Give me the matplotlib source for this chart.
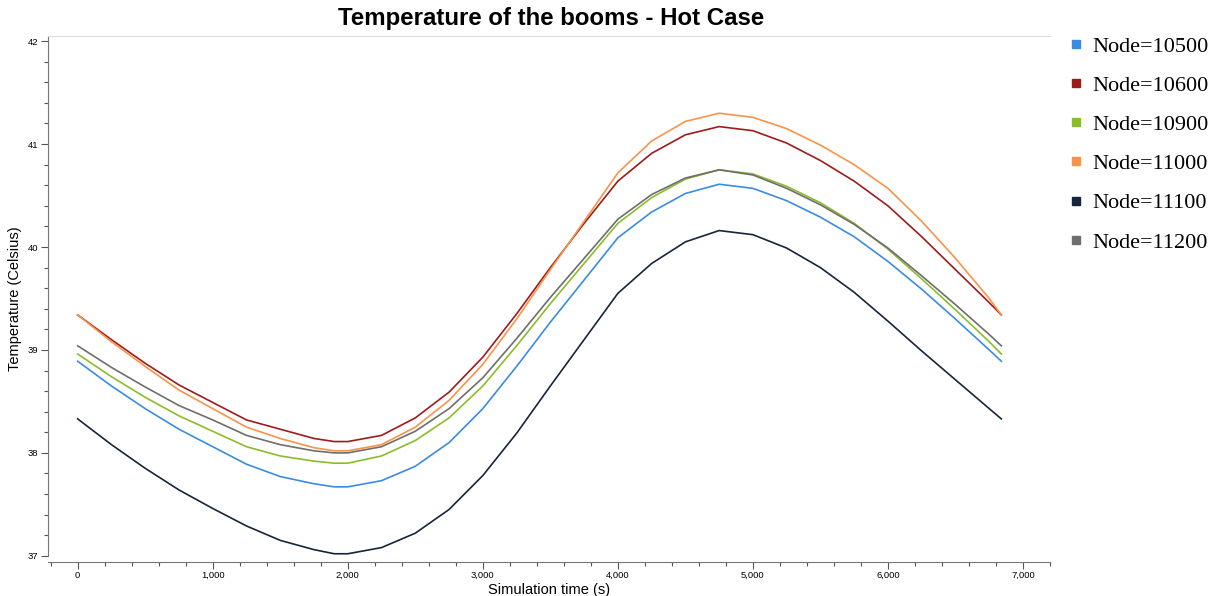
import numpy as np
import matplotlib
matplotlib.use("Agg")
import matplotlib.pyplot as plt
from matplotlib.ticker import MultipleLocator, FuncFormatter
from matplotlib.lines import Line2D

# simulation time (s)
time_s = [0, 250, 500, 750, 1000, 1250, 1500, 1750, 1900, 2000, 2250, 2500, 2750, 3000, 3250,
          3500, 3750, 4000, 4250, 4500, 4750, 5000, 5250, 5500, 5750, 6000, 6250, 6500, 6750, 6840]

# temperatures (Celsius)
node_10500 = [38.89, 38.65, 38.43, 38.23, 38.06, 37.89, 37.77, 37.70, 37.67, 37.67, 37.73, 37.87, 38.10, 38.43, 38.84,
              39.27, 39.68, 40.09, 40.34, 40.52, 40.61, 40.57, 40.45, 40.29, 40.10, 39.86, 39.59, 39.30, 39.00, 38.89]
node_10600 = [39.34, 39.10, 38.87, 38.66, 38.49, 38.32, 38.23, 38.14, 38.11, 38.11, 38.17, 38.34, 38.59, 38.93, 39.35,
              39.80, 40.23, 40.64, 40.91, 41.09, 41.17, 41.13, 41.01, 40.84, 40.64, 40.40, 40.10, 39.78, 39.46, 39.34]
node_10900 = [38.96, 38.74, 38.54, 38.36, 38.21, 38.06, 37.97, 37.92, 37.90, 37.90, 37.97, 38.12, 38.34, 38.65, 39.04,
              39.45, 39.84, 40.23, 40.48, 40.66, 40.75, 40.71, 40.59, 40.43, 40.23, 39.98, 39.69, 39.39, 39.08, 38.96]
node_11000 = [39.34, 39.08, 38.84, 38.61, 38.43, 38.25, 38.14, 38.05, 38.02, 38.02, 38.08, 38.25, 38.51, 38.86, 39.30,
              39.78, 40.25, 40.72, 41.03, 41.22, 41.30, 41.26, 41.15, 40.99, 40.80, 40.57, 40.25, 39.89, 39.50, 39.34]
node_11100 = [38.33, 38.08, 37.85, 37.64, 37.46, 37.29, 37.15, 37.06, 37.02, 37.02, 37.08, 37.22, 37.45, 37.78, 38.19,
              38.65, 39.10, 39.55, 39.84, 40.05, 40.16, 40.12, 39.99, 39.80, 39.56, 39.28, 38.99, 38.71, 38.43, 38.33]
node_11200 = [39.04, 38.83, 38.64, 38.46, 38.32, 38.17, 38.08, 38.02, 38.00, 38.00, 38.06, 38.21, 38.43, 38.73, 39.11,
              39.51, 39.89, 40.27, 40.51, 40.67, 40.75, 40.70, 40.57, 40.41, 40.22, 39.99, 39.72, 39.44, 39.15, 39.04]

labels = ["Node=10500", "Node=10600", "Node=10900", "Node=11000", "Node=11100", "Node=11200"]
colors = ["#3b8ce0", "#9e1b1b", "#8bbd2b", "#f7944a", "#17253a", "#6e6e6e"]

plt.rcParams['font.family'] = ['Liberation Sans', 'DejaVu Sans']

fig = plt.figure(figsize=(12.2, 5.96), dpi=100)
ax = fig.add_axes([48 / 1220, 1 - 562 / 596, (1050 - 48) / 1220, (562 - 36) / 596])

series = [node_10500, node_10600, node_10900, node_11000, node_11100, node_11200]
for vals, c in zip(series, colors):
    ax.plot(time_s, vals, color=c, lw=1.2, solid_joinstyle='round')

ax.set_xlim(-220, 7200)
ax.set_ylim(36.94, 42.05)

ax.xaxis.set_major_locator(MultipleLocator(1000))
ax.xaxis.set_minor_locator(MultipleLocator(200))
ax.yaxis.set_major_locator(MultipleLocator(1))
ax.yaxis.set_minor_locator(MultipleLocator(0.2))
ax.xaxis.set_major_formatter(FuncFormatter(lambda v, p: f"{int(v):,}"))
ax.yaxis.set_major_formatter(FuncFormatter(lambda v, p: f"{int(v)}"))

ax.tick_params(axis='both', which='major', length=5, width=0.8, color='#555555', labelsize=6.8, pad=2)
ax.tick_params(axis='both', which='minor', length=3, width=0.8, color='#555555')
ax.tick_params(axis='x', which='major', pad=1.5)

ax.spines['right'].set_visible(False)
ax.spines['top'].set_color('#dddddd')
ax.spines['left'].set_color('#777777')
ax.spines['bottom'].set_color('#777777')
ax.spines['left'].set_bounds(37, 42.05)

ax.set_xlabel("Simulation time (s)", fontsize=10.5, labelpad=2)
ax.set_ylabel("Temperature (Celsius)", fontsize=10.5, labelpad=4)
fig.text(551 / 1220, 1 - 19 / 596, "Temperature of the booms - Hot Case",
         fontsize=17.3, fontweight='bold', ha='center', va='center')

handles = [Line2D([], [], ls='none', marker='s', markersize=6, color=c) for c in colors]
fig.legend(handles, labels, loc='upper left', bbox_to_anchor=(1068 / 1220, 1 - 36 / 596),
           frameon=False, prop={'family': 'Liberation Serif', 'size': 16},
           handlelength=0.7, handletextpad=0.4, labelspacing=0.84, borderaxespad=0, borderpad=0)

fig.savefig("out.png", dpi=100)
